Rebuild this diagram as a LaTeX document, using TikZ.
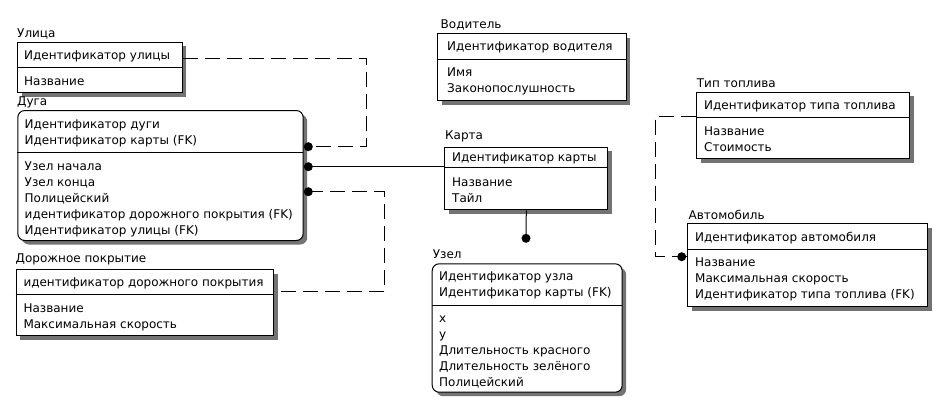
\documentclass[tikz,border=0pt]{standalone}
\usepackage{fontspec}
\setmainfont{DejaVu Sans}
\usetikzlibrary{shadows}
\begin{document}
\begin{tikzpicture}[x=1pt,y=-1pt,
  font=\fontsize{12}{16}\selectfont,
  entity/.style={draw=black, line width=1pt, fill=white, inner sep=0pt, anchor=north west,
    drop shadow={shadow xshift=4pt, shadow yshift=-4pt, fill=black!55, opacity=1}},
  soft/.style={entity, rounded corners=7pt},
  divider/.style={line width=1pt},
  row/.style={anchor=base west, inner sep=0pt},
  title/.style={anchor=base west, inner sep=0pt},
  ident/.style={line width=1pt},
  nonident/.style={line width=1pt, dash pattern=on 15pt off 7pt},
  dotn/.style={circle, fill=black, inner sep=0pt, minimum size=9pt}
]
\fill[white] (0,0) rectangle (941,405);
\useasboundingbox (0,0) rectangle (941,405);

% connector end points and bends
\coordinate (p1) at (308.3,146.7);
\coordinate (p2) at (308.3,166.7);
\coordinate (p3) at (308.3,191.7);
\coordinate (p4) at (526,238.3);
\coordinate (p5) at (681.7,256.7);
\coordinate (k1) at (366.7,58.3);
\coordinate (k3) at (384.3,291.7);
\coordinate (k5) at (655,116.7);

% entity boxes
\node[entity, minimum width=164.7pt, minimum height=50.6pt] (ulica) at (17,41.7) {};
\node[soft, minimum width=285.4pt, minimum height=130pt] (duga) at (17.3,110) {};
\node[entity, minimum width=257.6pt, minimum height=66pt] (dor) at (15.7,269) {};
\node[entity, minimum width=188.4pt, minimum height=66.7pt] (vod) at (437.3,33.3) {};
\node[entity, minimum width=163pt, minimum height=62.6pt] (karta) at (444.3,146.7) {};
\node[soft, minimum width=190pt, minimum height=128.4pt] (uzel) at (431.7,263.3) {};
\node[entity, minimum width=213.3pt, minimum height=66.6pt] (tip) at (696,91.7) {};
\node[entity, minimum width=240pt, minimum height=82.7pt] (avto) at (687.3,223.3) {};

% relationships
\draw[nonident] (ulica.east |- k1) -- (k1) |- (p1);
\draw[ident] (p2) -- (karta.west |- p2);
\draw[nonident] (p3) -| (k3) -- (dor.east |- k3);
\draw[ident] (karta.south) -- (p4);
\draw[nonident] (tip.west |- k5) -- (k5) |- (p5);
\draw[ident] (p5) -- (avto.west |- p5);
\node[dotn] (d1) at (p1) {};
\node[dotn] (d2) at (p2) {};
\node[dotn] (d3) at (p3) {};
\node[dotn] (d4) at (p4) {};
\node[dotn] (d5) at (p5) {};

% key / attribute separators
\draw[divider] (17,67.3) -- (181.7,67.3);
\draw[divider] (17.3,152.3) -- (302.7,152.3);
\draw[divider] (15.7,294.3) -- (273.3,294.3);
\draw[divider] (437.3,59) -- (625.7,59);
\draw[divider] (444.3,167.3) -- (607.3,167.3);
\draw[divider] (431.7,305) -- (621.7,305);
\draw[divider] (696,117.3) -- (909.3,117.3);
\draw[divider] (687.3,249.3) -- (927.3,249.3);

% Улица
\node[title] (tulica) at (17,37) {Улица};
\node[row] (ulica1) at (24,59.3) {Идентификатор улицы};
\node[row] (ulica2) at (24,85) {Название};

% Дуга
\node[title] (tduga) at (17,105) {Дуга};
\node[row] (duga1) at (24.5,128.3) {Идентификатор дуги};
\node[row] (duga2) at (24.5,144.3) {Идентификатор карты (FK)};
\node[row] (duga3) at (24.5,170.3) {Узел начала};
\node[row] (duga4) at (24.5,186.3) {Узел конца};
\node[row] (duga5) at (24.5,202.3) {Полицейский};
\node[row] (duga6) at (24.5,218.3) {идентификатор дорожного покрытия (FK)};
\node[row] (duga7) at (24.5,234.3) {Идентификатор улицы (FK)};

% Дорожное покрытие
\node[title] (tdor) at (15.5,262.6) {Дорожное покрытие};
\node[row] (dor1) at (23.3,286) {идентификатор дорожного покрытия};
\node[row] (dor2) at (23.3,312.3) {Название};
\node[row] (dor3) at (23.3,328.3) {Максимальная скорость};

% Водитель
\node[title] (tvod) at (440.5,28.3) {Водитель};
\node[row] (vod1) at (447,50.3) {Идентификатор водителя};
\node[row] (vod2) at (447,76.5) {Имя};
\node[row] (vod3) at (447,92.8) {Законопослушность};

% Карта
\node[title] (tkarta) at (445,139.3) {Карта};
\node[row] (karta1) at (452,161) {Идентификатор карты};
\node[row] (karta2) at (452,186.4) {Название};
\node[row] (karta3) at (452,202.2) {Тайл};

% Узел
\node[title] (tuzel) at (432.7,258.3) {Узел};
\node[row] (uzel1) at (439,280.3) {Идентификатор узла};
\node[row] (uzel2) at (439,296.6) {Идентификатор карты (FK)};
\node[row] (uzel3) at (439,322.5) {x};
\node[row] (uzel4) at (439,338.5) {y};
\node[row] (uzel5) at (439,354.3) {Длительность красного};
\node[row] (uzel6) at (439,370.3) {Длительность зелёного};
\node[row] (uzel7) at (439,386) {Полицейский};

% Тип топлива
\node[title] (ttip) at (696.7,87) {Тип топлива};
\node[row] (tip1) at (704,109.3) {Идентификатор типа топлива};
\node[row] (tip2) at (704,135.3) {Название};
\node[row] (tip3) at (704,151) {Стоимость};

% Автомобиль
\node[title] (tavto) at (688.5,219.3) {Автомобиль};
\node[row] (avto1) at (695,241) {Идентификатор автомобиля};
\node[row] (avto2) at (695,266.6) {Название};
\node[row] (avto3) at (695,282.6) {Максимальная скорость};
\node[row] (avto4) at (695,298.6) {Идентификатор типа топлива (FK)};
\end{tikzpicture}
\end{document}
